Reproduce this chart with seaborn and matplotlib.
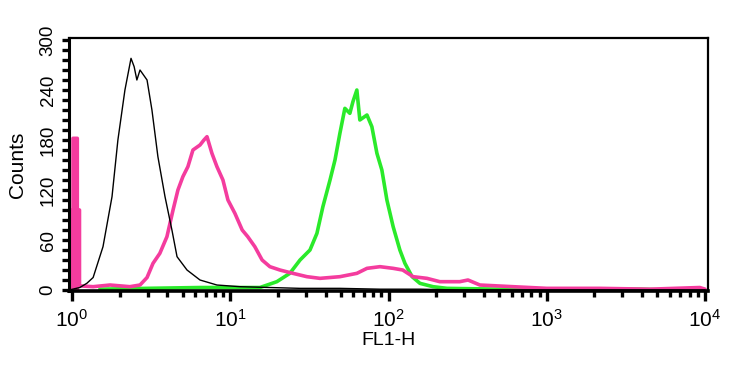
import numpy as np
import pandas as pd
import matplotlib
matplotlib.use("Agg")
import matplotlib.pyplot as plt
import seaborn as sns
from matplotlib.ticker import LogLocator, FixedLocator, LogFormatterMathtext

# FL1-H channel values and counts
black_fl1 = [0.96, 1.12, 1.24, 1.36, 1.57, 1.79, 1.95, 2.16, 2.36, 2.47, 2.57, 2.69,
             2.98, 3.20, 3.49, 3.87, 4.28, 4.61, 5.33, 6.44, 8.24, 11.5, 17.8, 27.6,
             49.3, 88.3, 158, 282, 10000]
black_counts = [0, 3, 8, 15, 52, 112, 180, 240, 278, 268, 252, 264,
                252, 216, 160, 112, 72, 40, 24, 12, 6, 4, 3, 2,
                2, 1, 1, 0, 0]

# the first channels are a tall narrow bar: edges kept as pairs
pink_fl1 = [0.96, 0.96, 1.015, 1.015, 1.08, 1.08, 1.115, 1.115, 1.36, 1.74, 2.32, 2.69,
            2.98, 3.25, 3.59, 3.98,
            4.35, 4.67, 5.02, 5.40, 5.81, 6.44, 6.82, 7.13, 7.66, 8.24, 8.99, 9.67,
            10.7, 11.9, 12.9, 14.3, 15.9, 17.8, 20.6, 24.9, 30.5, 36.9, 49.3, 63.1,
            73.1, 88.3, 107, 123, 143, 175, 211, 282, 318, 378, 611, 1000, 2165,
            4480, 9270, 10000]
pink_counts = [0, 96, 96, 182, 182, 96, 96, 5, 4, 6, 4, 6,
               15, 32, 44, 64,
               96, 120, 136, 148, 168, 174, 180, 184, 164, 148, 132, 108,
               92, 72, 64, 52, 36, 28, 24, 20, 16, 14, 16, 20,
               26, 28, 26, 24, 16, 14, 10, 10, 12, 6, 4, 2, 2,
               1, 3, 1]

green_fl1 = [1.50, 2.98, 6.44, 15.4, 19.7, 23.8, 27.6, 31.9, 35.3, 38.5, 42.7, 45.9,
             49.3, 53.0, 57.0, 59.6, 63.1, 65.9, 73.1, 78.5, 84.5, 90.8, 97.7, 107,
             118, 127, 141, 158, 191, 234, 506, 2165, 3870, 6000]
green_counts = [1, 2, 3, 3, 10, 20, 36, 48, 68, 100, 132, 156,
                188, 218, 212, 226, 240, 204, 210, 196, 164, 144, 108, 76,
                48, 32, 16, 8, 4, 2, 1, 1, 1, 0]

y_ticks = [0, 60, 120, 180, 240, 300]

sns.set_style("ticks")
plt.rcParams["font.family"] = ["Liberation Sans", "DejaVu Sans"]
plt.rcParams["mathtext.fontset"] = "custom"
plt.rcParams["mathtext.rm"] = "Liberation Sans"
plt.rcParams["mathtext.it"] = "Liberation Sans:italic"
plt.rcParams["text.color"] = "black"
plt.rcParams["axes.labelcolor"] = "black"
plt.rcParams["xtick.color"] = "black"
plt.rcParams["ytick.color"] = "black"

fig = plt.figure(figsize=(7.5, 3.65), dpi=100)
ax = fig.add_axes([0.092, 0.2027, 0.852, 0.6932])

green = pd.DataFrame({"fl1": green_fl1, "counts": green_counts})
pink = pd.DataFrame({"fl1": pink_fl1, "counts": pink_counts})
black = pd.DataFrame({"fl1": black_fl1, "counts": black_counts})

sns.lineplot(data=green, x="fl1", y="counts", ax=ax, color="#2aea2a", lw=2.6,
             estimator=None, sort=False)
sns.lineplot(data=pink, x="fl1", y="counts", ax=ax, color="#f43c9e", lw=2.6,
             estimator=None, sort=False)
# the low-channel pink bar looks solid in the original
ax.fill_between(pink_fl1[:8], pink_counts[:8], color="#f43c9e", lw=0)
sns.lineplot(data=black, x="fl1", y="counts", ax=ax, color="black", lw=1.0,
             estimator=None, sort=False)

ax.set_xscale("log")
ax.set_xlim(10 ** (-3 / 158.3), 10 ** (4 + 3 / 158.3))
ax.set_ylim(-1.2, 302.4)

ax.xaxis.set_major_locator(LogLocator(base=10, numticks=10))
ax.xaxis.set_minor_locator(LogLocator(base=10, subs=np.arange(2, 10), numticks=20))
ax.xaxis.set_major_formatter(LogFormatterMathtext())
ax.yaxis.set_major_locator(FixedLocator(y_ticks))
ax.yaxis.set_minor_locator(FixedLocator(np.arange(0, 301, 12)))
ax.set_yticklabels([str(v) for v in y_ticks], rotation=90, va="center")

ax.tick_params(axis="x", which="major", length=7, width=2.4, labelsize=15,
               direction="out", pad=6)
ax.tick_params(axis="y", which="major", length=5, width=2.4, labelsize=13.5,
               direction="out", pad=4)
ax.tick_params(axis="x", which="minor", length=4.5, width=2.4, direction="out")
ax.tick_params(axis="y", which="minor", length=5, width=2.4, direction="out")

for side in ["top", "right", "left", "bottom"]:
    ax.spines[side].set_visible(True)
    ax.spines[side].set_linewidth(1.6)
    ax.spines[side].set_color("black")
ax.spines["bottom"].set_linewidth(2.6)
ax.spines["left"].set_linewidth(2.2)

ax.set_xlabel("FL1-H", fontsize=14, labelpad=1)
ax.set_ylabel("Counts", fontsize=15, labelpad=9)

fig.savefig("out.png", dpi=100)
